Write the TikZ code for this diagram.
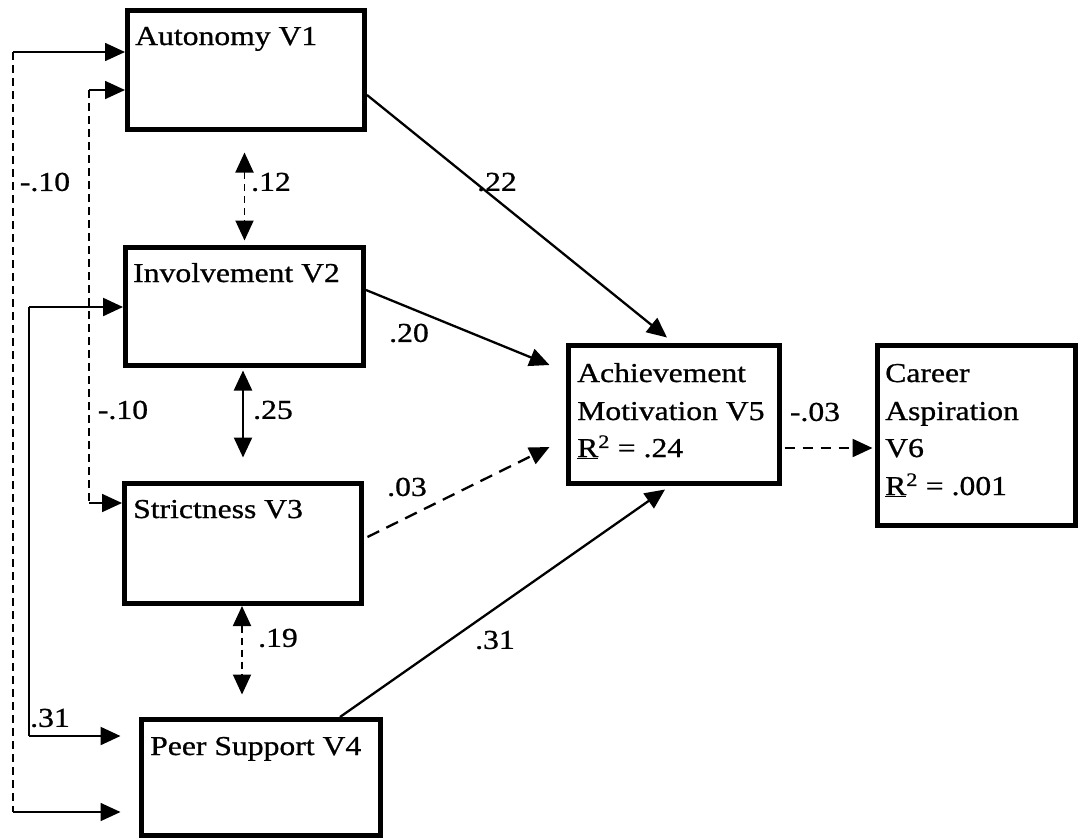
\documentclass[tikz,border=0pt]{standalone}
\usepackage{fontspec}
\setmainfont{Liberation Serif}[FakeStretch=1.16,FakeBold=0.8]
\usetikzlibrary{arrows.meta,calc}
\begin{document}
\begin{tikzpicture}[x=1pt,y=-1pt,
  box/.style={draw, line width=5pt, inner sep=0pt},
  txt/.style={inner sep=0pt, font=\fontsize{27.3}{37.5}\selectfont},
  tip/.style={-{Triangle[length=20pt,width=18pt]}},
  dtip/.style={{Triangle[length=20pt,width=18pt]}-{Triangle[length=20pt,width=18pt]}},
  conn/.style={line width=2.3pt},
  thin/.style={line width=1.7pt},
  vdash/.style={line width=1.5pt, dash pattern=on 8pt off 5pt},
  sdash/.style={line width=1.9pt, dash pattern=on 7pt off 5pt},
  ldash/.style={line width=2.3pt, dash pattern=on 13pt off 8pt},
  rdash/.style={line width=2.3pt, dash pattern=on 10pt off 8pt}]
\path[fill=white] (0,0) rectangle (1079,839);
\useasboundingbox (0,0) rectangle (1079,839);

% boxes
\node[box, minimum width=237pt, minimum height=119pt] (a1) at (246,70) {};
\node[box, minimum width=238pt, minimum height=118pt] (inv) at (244.5,306.5) {};
\node[box, minimum width=237pt, minimum height=120pt] (str) at (243,543.5) {};
\node[box, minimum width=239pt, minimum height=116pt] (p4) at (261,777.5) {};
\node[box, minimum width=211pt, minimum height=138pt] (v5) at (674,414.5) {};
\node[box, minimum width=198pt, minimum height=180pt] (v6) at (976.5,435.5) {};

% box texts
\node[txt, anchor=base west] (a1t) at (135,45) {Autonomy V1};
\node[txt, anchor=base west] (invt) at (133,282) {Involvement V2};
\node[txt, anchor=base west] (strt) at (133,518) {Strictness V3};
\node[txt, anchor=base west] (p4t) at (150,755) {Peer Support V4};
\node[txt, anchor=base west] (v5a) at (577,382) {Achievement};
\node[txt, anchor=base west] (v5b) at (577,420) {Motivation V5};
\node[txt, anchor=base west] (v5c) at (577,457) {\underline{R}\textsuperscript{2} = .24};
\node[txt, anchor=base west] (v6a) at (885,382) {Career};
\node[txt, anchor=base west] (v6b) at (885,420) {Aspiration};
\node[txt, anchor=base west] (v6c) at (885,457) {V6};
\node[txt, anchor=base west] (v6d) at (885,495) {\underline{R}\textsuperscript{2} = .001};

% left correlation paths
\coordinate (o1) at (13,52);
\coordinate (o2) at (13,812);
\coordinate (i1) at (89,90);
\coordinate (i2) at (89,503);
\coordinate (s1) at (29,307);
\coordinate (s2) at (29,736);

\draw[thin, tip] (o1) -- (a1.west |- o1);
\draw[vdash] (o1) -- (o2);
\draw[thin, tip, shorten >=18.5pt] (o2) -- (p4.west |- o2);

\draw[thin, tip] (i1) -- (a1.west |- i1);
\draw[vdash] (i1) -- (i2);
\draw[thin, tip] (i2) -- (str.west |- i2);

\draw[conn, tip] (s1) -- (inv.west |- s1);
\draw[conn] (s1) -- (s2);
\draw[conn, tip, shorten >=18.5pt] (s2) -- (p4.west |- s2);

% vertical double-headed arrows
\draw[sdash, dtip, shorten <=20.5pt, shorten >=4.5pt] (inv.north |- a1.south) -- (inv.north);
\draw[conn, dtip, shorten <=2.5pt, shorten >=23.5pt] (str.north |- inv.south) -- (str.north);
\draw[sdash, dtip, shorten >=22.5pt] ([xshift=-1pt]str.south) -- ([xshift=-1pt]str.south |- p4.north);

% paths into V5 and V6
\draw[conn, tip] ([yshift=-25pt]a1.east) -- ([xshift=-7pt,yshift=5.5pt]v5.north);
\draw[conn, tip] ([yshift=16.5pt]inv.east) -- ([xshift=-16.5pt,yshift=49.5pt]v5.west);
\draw[ldash, tip] ([xshift=3.5pt,yshift=6.5pt]str.east) -- ([xshift=-16.5pt,yshift=-32.5pt]v5.west);
\draw[conn, tip] ([xshift=79pt]p4.north) -- ([xshift=-9pt,yshift=-3.5pt]v5.south);
\coordinate (v5out) at ([xshift=2.5pt,yshift=-33.5pt]v5.east);
\draw[rdash, tip, shorten >=2.5pt] (v5out) -- (v6.west |- v5out);

% coefficient labels
\node[txt] (l1) at (45,182) {-.10};
\node[txt] (l2) at (271,182) {.12};
\node[txt] (l3) at (497,182) {.22};
\node[txt] (l4) at (123,410) {-.10};
\node[txt] (l5) at (273,410) {.25};
\node[txt] (l6) at (409,333) {.20};
\node[txt] (l7) at (407,487) {.03};
\node[txt] (l8) at (815,412) {-.03};
\node[txt] (l9) at (278,638) {.19};
\node[txt] (l10) at (50,718) {.31};
\node[txt] (l11) at (495,640) {.31};
\end{tikzpicture}
\end{document}
